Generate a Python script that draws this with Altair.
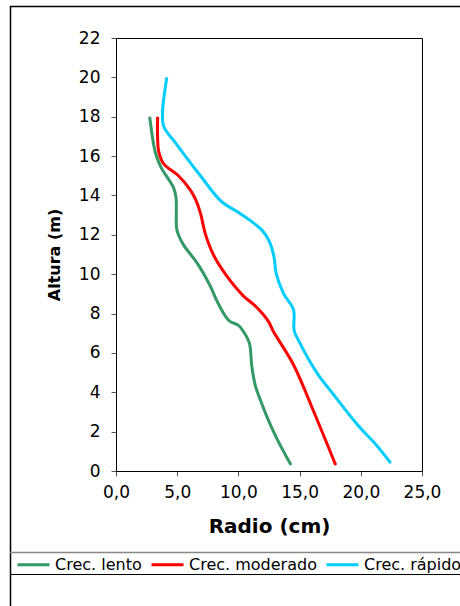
import altair as alt
import pandas as pd

series_names = ["Crec. lento", "Crec. moderado", "Crec. rápido"]
series_colors = ["#339966", "#FF0000", "#00CCFF"]

lento_x = [2.75, 3.1, 3.3, 3.7, 4.7, 4.9, 4.95, 5.1, 5.5, 6.7, 7.7, 8.2, 8.9, 9.3, 10.0, 10.5, 10.9, 11.1, 11.4, 11.8, 12.3, 13.1, 14.3]
lento_y = [18.0, 16.5, 16.0, 15.4, 14.4, 13.9, 12.35, 12.0, 11.5, 10.5, 9.4, 8.7, 7.9, 7.6, 7.4, 7.0, 6.5, 5.3, 4.3, 3.6, 2.8, 1.7, 0.3]

mod_x = [3.4, 3.4, 3.5, 3.9, 5.1, 6.05, 6.5, 6.9, 7.3, 7.95, 9.0, 10.4, 11.35, 12.45, 12.85, 14.5, 16.1, 17.95]
mod_y = [18.0, 16.9, 16.2, 15.6, 15.0, 14.3, 13.8, 13.1, 12.05, 11.0, 9.95, 8.9, 8.4, 7.6, 7.1, 5.4, 3.1, 0.3]

rap_x = [4.15, 3.9, 3.8, 3.9, 4.95, 6.9, 8.6, 10.1, 11.9, 12.5, 12.9, 13.1, 13.7, 14.5, 14.55, 14.9, 16.4, 17.75, 19.8, 21.3, 22.45]
rap_y = [20.0, 18.9, 18.25, 17.5, 16.6, 15.0, 13.7, 13.1, 12.25, 11.7, 10.9, 10.0, 9.0, 8.2, 7.15, 6.65, 5.0, 3.9, 2.3, 1.3, 0.4]

x_ticks = [0, 5, 10, 15, 20, 25]
y_ticks = [0, 2, 4, 6, 8, 10, 12, 14, 16, 18, 20, 22]

rows = []
for name, xs, ys in zip(series_names, [lento_x, mod_x, rap_x], [lento_y, mod_y, rap_y]):
    for i, (xv, yv) in enumerate(zip(xs, ys)):
        rows.append({"serie": name, "radio": xv, "altura": yv, "orden": i})
df = pd.DataFrame(rows)

FONT = "DejaVu Sans"

lines = alt.Chart(df).mark_line(strokeWidth=3, interpolate="catmull-rom", strokeJoin="round").encode(
    x=alt.X("radio:Q",
            scale=alt.Scale(domain=[0, 25], nice=False, zero=True),
            axis=alt.Axis(title="Radio (cm)", values=x_ticks,
                          labelExpr="replace(format(datum.value, '.1f'), '.', ',')",
                          grid=False, tickSize=5, labelPadding=8, labelFlush=False,
                          labelOverlap=False,
                          titlePadding=16, labelFontSize=17, titleFontSize=20,
                          labelFont=FONT, titleFont=FONT, titleFontWeight="bold",
                          domainColor="black", tickColor="#555555",
                          labelColor="black", titleColor="black")),
    y=alt.Y("altura:Q",
            scale=alt.Scale(domain=[0, 22], nice=False),
            axis=alt.Axis(title="Altura (m)", values=y_ticks,
                          grid=False, tickSize=5, labelPadding=11, labelFlush=False,
                          labelOverlap=False,
                          titlePadding=16, labelFontSize=17, titleFontSize=16,
                          labelFont=FONT, titleFont=FONT, titleFontWeight="bold",
                          domainColor="black", tickColor="#555555",
                          labelColor="black", titleColor="black")),
    color=alt.Color("serie:N",
                    scale=alt.Scale(domain=series_names, range=series_colors),
                    legend=alt.Legend(title=None, orient="none", direction="horizontal",
                                      legendX=-100, legendY=509,
                                      symbolType="stroke", symbolSize=1024,
                                      symbolStrokeWidth=3, labelFontSize=16,
                                      labelFont=FONT, labelColor="black",
                                      columnPadding=3, labelOffset=4, padding=0,
                                      labelLimit=300)),
    order="orden:Q",
)

deco = pd.DataFrame({"k": [0]})
base = alt.Chart(deco)
outer_left = base.mark_rule(color="black", strokeWidth=1.5).encode(
    x=alt.value(-105.5), y=alt.value(-32), y2=alt.value(600))
outer_top = base.mark_rule(color="black", strokeWidth=1.5).encode(
    x=alt.value(-106), x2=alt.value(400), y=alt.value(-31.5))
leg_top = base.mark_rule(color="#888888", strokeWidth=1.5).encode(
    x=alt.value(-106), x2=alt.value(400), y=alt.value(514.5))
leg_bot = base.mark_rule(color="black", strokeWidth=1).encode(
    x=alt.value(-106), x2=alt.value(400), y=alt.value(536.5))

chart = alt.layer(lines, outer_left, outer_top, leg_top, leg_bot).properties(
    width=306, height=433,
    autosize=alt.AutoSizeParams(type="none"),
    padding={"left": 116, "top": 38, "right": 38, "bottom": 135},
    background="white",
).configure_view(stroke="black", strokeWidth=1)

chart.save("out.html", embed_options={"renderer": "svg", "actions": False})
